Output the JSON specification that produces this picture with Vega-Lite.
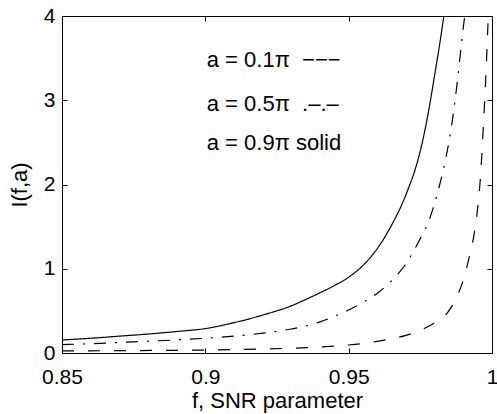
{
  "$schema": "https://vega.github.io/schema/vega-lite/v6.json",
  "width": 430,
  "height": 337,
  "autosize": {"type": "none"},
  "padding": {"left": 62, "top": 16, "right": 5, "bottom": 61},
  "background": "white",
  "config": {
    "view": {"stroke": null},
    "font": "Liberation Sans",
    "axis": {
      "domainColor": "black",
      "domainWidth": 1,
      "tickColor": "black",
      "tickSize": -5,
      "tickWidth": 1,
      "grid": false,
      "labelFlush": false,
      "labelFont": "Liberation Sans",
      "labelFontSize": 21,
      "labelColor": "black",
      "titleFont": "Liberation Sans",
      "titleFontSize": 22,
      "titleFontWeight": "normal",
      "titleColor": "black"
    }
  },
  "resolve": {"axis": {"x": "independent", "y": "independent"}},
  "layer": [
    {
      "data": {
        "values": [
          {"a": "0.9π", "f": 0.85, "I": 0.155},
          {"a": "0.9π", "f": 0.86, "I": 0.175},
          {"a": "0.9π", "f": 0.87, "I": 0.2},
          {"a": "0.9π", "f": 0.88, "I": 0.225},
          {"a": "0.9π", "f": 0.89, "I": 0.255},
          {"a": "0.9π", "f": 0.9, "I": 0.29},
          {"a": "0.9π", "f": 0.91, "I": 0.36},
          {"a": "0.9π", "f": 0.92, "I": 0.45},
          {"a": "0.9π", "f": 0.93, "I": 0.56},
          {"a": "0.9π", "f": 0.935, "I": 0.635},
          {"a": "0.9π", "f": 0.94, "I": 0.715},
          {"a": "0.9π", "f": 0.945, "I": 0.8},
          {"a": "0.9π", "f": 0.95, "I": 0.9},
          {"a": "0.9π", "f": 0.955, "I": 1.04},
          {"a": "0.9π", "f": 0.96, "I": 1.24},
          {"a": "0.9π", "f": 0.965, "I": 1.52},
          {"a": "0.9π", "f": 0.97, "I": 1.88},
          {"a": "0.9π", "f": 0.975, "I": 2.4},
          {"a": "0.9π", "f": 0.9775, "I": 2.8},
          {"a": "0.9π", "f": 0.98, "I": 3.3},
          {"a": "0.9π", "f": 0.982, "I": 3.72},
          {"a": "0.9π", "f": 0.9832, "I": 4.0},
          {"a": "0.5π", "f": 0.85, "I": 0.1},
          {"a": "0.5π", "f": 0.86, "I": 0.11},
          {"a": "0.5π", "f": 0.87, "I": 0.125},
          {"a": "0.5π", "f": 0.88, "I": 0.14},
          {"a": "0.5π", "f": 0.89, "I": 0.155},
          {"a": "0.5π", "f": 0.9, "I": 0.175},
          {"a": "0.5π", "f": 0.91, "I": 0.2},
          {"a": "0.5π", "f": 0.92, "I": 0.235},
          {"a": "0.5π", "f": 0.93, "I": 0.285},
          {"a": "0.5π", "f": 0.935, "I": 0.32},
          {"a": "0.5π", "f": 0.94, "I": 0.37},
          {"a": "0.5π", "f": 0.945, "I": 0.435},
          {"a": "0.5π", "f": 0.95, "I": 0.51},
          {"a": "0.5π", "f": 0.955, "I": 0.6},
          {"a": "0.5π", "f": 0.96, "I": 0.71},
          {"a": "0.5π", "f": 0.965, "I": 0.86},
          {"a": "0.5π", "f": 0.97, "I": 1.06},
          {"a": "0.5π", "f": 0.975, "I": 1.36},
          {"a": "0.5π", "f": 0.978, "I": 1.57},
          {"a": "0.5π", "f": 0.98, "I": 1.78},
          {"a": "0.5π", "f": 0.982, "I": 2.03},
          {"a": "0.5π", "f": 0.984, "I": 2.33},
          {"a": "0.5π", "f": 0.986, "I": 2.72},
          {"a": "0.5π", "f": 0.988, "I": 3.25},
          {"a": "0.5π", "f": 0.989, "I": 3.56},
          {"a": "0.5π", "f": 0.99, "I": 3.87},
          {"a": "0.5π", "f": 0.9905, "I": 4.0},
          {"a": "0.1π", "f": 0.85, "I": 0.025},
          {"a": "0.1π", "f": 0.87, "I": 0.028},
          {"a": "0.1π", "f": 0.89, "I": 0.032},
          {"a": "0.1π", "f": 0.9, "I": 0.035},
          {"a": "0.1π", "f": 0.91, "I": 0.04},
          {"a": "0.1π", "f": 0.92, "I": 0.048},
          {"a": "0.1π", "f": 0.93, "I": 0.057},
          {"a": "0.1π", "f": 0.94, "I": 0.072},
          {"a": "0.1π", "f": 0.95, "I": 0.095},
          {"a": "0.1π", "f": 0.955, "I": 0.113},
          {"a": "0.1π", "f": 0.96, "I": 0.138},
          {"a": "0.1π", "f": 0.965, "I": 0.17},
          {"a": "0.1π", "f": 0.97, "I": 0.21},
          {"a": "0.1π", "f": 0.975, "I": 0.27},
          {"a": "0.1π", "f": 0.98, "I": 0.36},
          {"a": "0.1π", "f": 0.9845, "I": 0.48},
          {"a": "0.1π", "f": 0.9875, "I": 0.65},
          {"a": "0.1π", "f": 0.99, "I": 0.87},
          {"a": "0.1π", "f": 0.992, "I": 1.13},
          {"a": "0.1π", "f": 0.994, "I": 1.46},
          {"a": "0.1π", "f": 0.995, "I": 1.72},
          {"a": "0.1π", "f": 0.996, "I": 2.1},
          {"a": "0.1π", "f": 0.997, "I": 2.7},
          {"a": "0.1π", "f": 0.998, "I": 3.4},
          {"a": "0.1π", "f": 0.9987, "I": 4.0}
        ]
      },
      "mark": {"type": "line", "color": "black", "strokeWidth": 1.2, "clip": true, "interpolate": "monotone"},
      "encoding": {
        "x": {
          "field": "f", "type": "quantitative",
          "scale": {"domain": [0.85, 1], "nice": false, "zero": false},
          "axis": {"orient": "bottom", "values": [0.85, 0.9, 0.95, 1], "format": "~g", "title": "f, SNR parameter", "labelPadding": 18, "titlePadding": 3}
        },
        "y": {
          "field": "I", "type": "quantitative",
          "scale": {"domain": [0, 4], "nice": false},
          "axis": {"orient": "left", "values": [0, 1, 2, 3, 4], "format": "d", "title": "I(f,a)", "labelPadding": 12, "titlePadding": 12}
        },
        "strokeDash": {
          "field": "a", "type": "nominal",
          "scale": {"domain": ["0.1π", "0.5π", "0.9π"], "range": [[12, 14], [12, 9, 2, 9], [1, 0]]},
          "legend": null
        }
      }
    },
    {
      "data": {
        "values": [
          {"label": "a = 0.1π \u00a0−−−", "f": 0.9005, "I": 3.398},
          {"label": "a = 0.5π \u00a0.–.–", "f": 0.9005, "I": 2.872},
          {"label": "a = 0.9π solid", "f": 0.9005, "I": 2.41}
        ]
      },
      "mark": {"type": "text", "align": "left", "baseline": "alphabetic", "fontSize": 22, "font": "Liberation Sans", "color": "black"},
      "encoding": {
        "x": {
          "field": "f", "type": "quantitative",
          "axis": {"orient": "top", "values": [0.85, 0.9, 0.95, 1], "labels": false, "title": null}
        },
        "y": {
          "field": "I", "type": "quantitative",
          "axis": {"orient": "right", "values": [0, 1, 2, 3, 4], "labels": false, "title": null}
        },
        "text": {"field": "label"}
      }
    }
  ]
}
